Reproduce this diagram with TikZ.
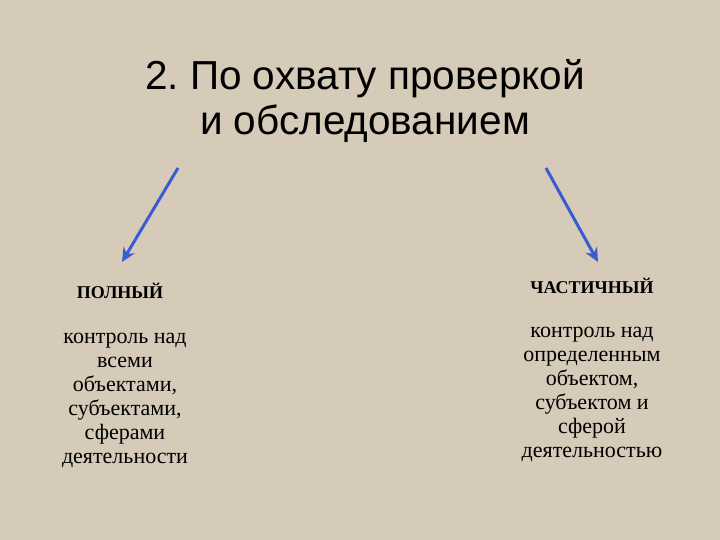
\documentclass[tikz,border=0pt]{standalone}
\usepackage{fontspec}
\setmainfont{Liberation Serif}
\newfontfamily\arialfont{Liberation Sans}
\usetikzlibrary{arrows.meta}
\definecolor{bgbeige}{RGB}{214,202,184}
\definecolor{arrowblue}{RGB}{58,92,210}
\begin{document}
\begin{tikzpicture}[x=1pt,y=-1pt,
  titletext/.style={font=\arialfont\fontsize{40.5}{45}\selectfont, align=center, text=black, inner sep=0pt},
  headtext/.style={font=\bfseries\fontsize{18}{21}\selectfont, text=black, inner sep=0pt},
  bodytext/.style={font=\fontsize{22}{24}\selectfont, align=center, text=black, inner sep=0pt},
  bluearrow/.style={draw=arrowblue, line width=3pt, -{Stealth[length=14pt,width=13pt]}}]
\fill[bgbeige] (0,0) rectangle (720,540);
\useasboundingbox (0,0) rectangle (720,540);
\node[titletext] (title) at (365,101) {\frenchspacing 2. По охвату проверкой\\и обследованием};
\coordinate (ls) at (178,168);
\coordinate (le) at (122,262);
\coordinate (rs) at (546,168);
\coordinate (re) at (598,262);
\draw[bluearrow] (ls) -- (le);
\draw[bluearrow] (rs) -- (re);
\node[headtext] (lhead) at (120,291) {ПОЛНЫЙ};
\node[headtext] (rhead) at (592,286) {ЧАСТИЧНЫЙ};
\node[bodytext] (lbody) at (125,400) {контроль над\\всеми\\объектами,\\субъектами,\\сферами\\деятельности};
\node[bodytext] (rbody) at (592,394) {контроль над\\определенным\\объектом,\\субъектом и\\сферой\\деятельностью};
\end{tikzpicture}
\end{document}
